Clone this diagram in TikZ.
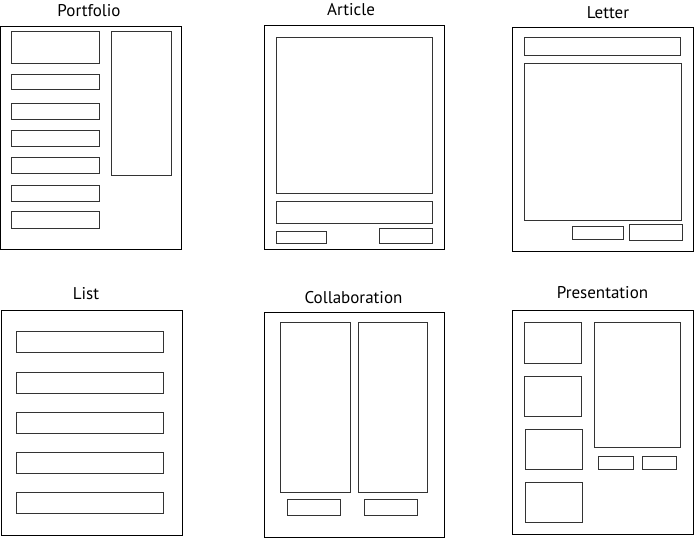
\documentclass[tikz,border=0pt]{standalone}
\usepackage{fontspec}
\setmainfont{PT Sans}
\begin{document}
\begin{tikzpicture}[x=1pt,y=-1pt,
  page/.style={draw=black,line width=1pt},
  block/.style={draw=black!80,line width=1pt},
  caption/.style={font=\fontsize{17}{20}\selectfont,inner sep=0pt,anchor=base}]
\useasboundingbox (0,0) rectangle (695,538);

% Portfolio
\node[caption] (tPortfolio) at (89,16.5) {Portfolio};
\draw[page] (0.5,26) rectangle (181,249);
\draw[block] (11,31) rectangle (99,63);
\draw[block] (111,31) rectangle (171.5,175);
\foreach \a/\b in {74.5/89.5,103.5/119,130/146.5,157/173.5,185/201.5,211/228}
  \draw[block] (11,\a) rectangle (99,\b);

% Article
\node[caption] (tArticle) at (351,16) {Article};
\draw[page] (264,25.5) rectangle (444.5,249);
\draw[block] (276,37) rectangle (432.5,193.5);
\draw[block] (276,201.5) rectangle (432.5,223.5);
\draw[block] (276,231) rectangle (326.5,243.5);
\draw[block] (379.5,228.5) rectangle (432.5,243.5);

% Letter
\node[caption] (tLetter) at (608,18) {Letter};
\draw[page] (512.5,27) rectangle (693.5,251);
\draw[block] (524.5,37.5) rectangle (680.5,55.5);
\draw[block] (524.5,63) rectangle (681,220);
\draw[block] (572.5,226.5) rectangle (623.5,239.5);
\draw[block] (629.5,224.5) rectangle (682.5,240.5);

% List
\node[caption] (tList) at (86,299) {List};
\draw[page] (1.5,310.5) rectangle (182.5,535);
\foreach \a/\b in {331.5/352.5,372.5/393,412.5/433,452.5/473,492.5/513}
  \draw[block] (16.5,\a) rectangle (163.5,\b);

% Collaboration
\node[caption] (tCollaboration) at (353.5,303) {Collaboration};
\draw[page] (264,312.5) rectangle (444.5,537);
\draw[block] (280.5,322.5) rectangle (350,492.5);
\draw[block] (358.5,322.5) rectangle (427.5,492.5);
\draw[block] (287.5,499.5) rectangle (340.5,515.5);
\draw[block] (364.5,499.5) rectangle (417.5,515.5);

% Presentation
\node[caption] (tPresentation) at (602.5,298) {Presentation};
\draw[page] (512,310.5) rectangle (693,534.5);
\draw[block] (524.5,322.5) rectangle (581,363.5);
\draw[block] (524.5,376.5) rectangle (581,416.5);
\draw[block] (525.5,429.5) rectangle (582.5,469.5);
\draw[block] (525.5,482.5) rectangle (582.5,522);
\draw[block] (594.5,322.5) rectangle (680.5,447.5);
\draw[block] (598.5,456.5) rectangle (633.5,469.5);
\draw[block] (642.5,456.5) rectangle (676.5,469.5);
\end{tikzpicture}
\end{document}
